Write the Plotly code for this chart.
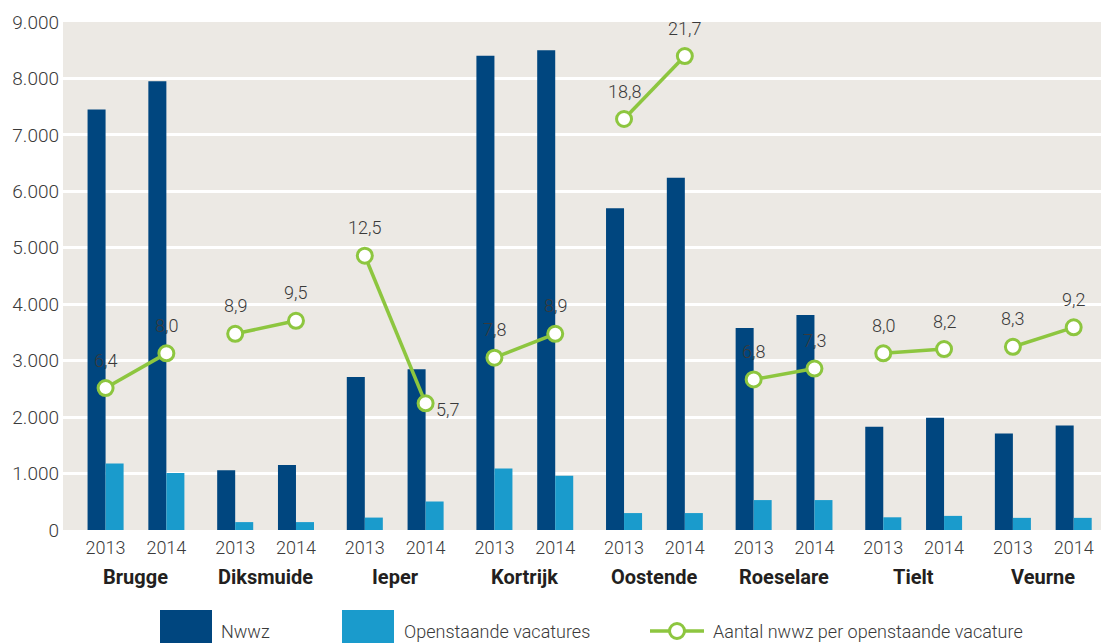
import plotly.graph_objects as go

# ---------------- data ----------------
regions = ["Brugge", "Diksmuide", "Ieper", "Kortrijk", "Oostende", "Roeselare", "Tielt", "Veurne"]
years = ["2013", "2014"]
nwwz_2013 = [7450, 1060, 2710, 8400, 5700, 3580, 1830, 1710]
nwwz_2014 = [7950, 1150, 2850, 8500, 6240, 3810, 1990, 1850]
vac_2013 = [1180, 140, 220, 1090, 300, 530, 225, 215]
vac_2014 = [1010, 140, 505, 960, 300, 530, 250, 215]
ratio_2013 = [6.4, 8.9, 12.5, 7.8, 18.8, 6.8, 8.0, 8.3]
ratio_2014 = [8.0, 9.5, 5.7, 8.9, 21.7, 7.3, 8.2, 9.2]
y_ticks = [0, 1000, 2000, 3000, 4000, 5000, 6000, 7000, 8000, 9000]

legend_names = ["Nwwz", "Openstaande vacatures", "Aantal nwwz per openstaande vacature"]

# ---------------- style ----------------
DARK = "#00467F"
LIGHT = "#1A9BCC"
GREEN = "#8DC63F"
BG = "#ECE9E4"
TXT = "#3A3A3A"
NUMFONT = "Roboto, sans-serif"
BOLDFONT = "Roboto, sans-serif"

OFF = 8                      # page body margin
W, H = 1109 - OFF, 643 - OFF
ML, MR, MT = 63 - OFF, 0, 22 - OFF
MB = H - (530 - OFF)
PW = W - ML - MR
PH = H - MT - MB
XR = [-0.563, 7.507]
YOFF = 0.2345   # half distance between the 2013 and 2014 slots
BW = 0.139      # bar width

def px2x(px):  # viewport px -> paper x
    return (px - OFF - ML) / PW

def py2y(py):  # viewport px -> paper y
    return (530 - py) / PH

# positions of each (region, year) slot
pos, yr_lab = [], []
for r in range(len(regions)):
    for k, y in enumerate(years):
        pos.append(r + (-YOFF if k == 0 else YOFF))
        yr_lab.append(y)

nwwz = [v for pair in zip(nwwz_2013, nwwz_2014) for v in pair]
vac = [v for pair in zip(vac_2013, vac_2014) for v in pair]
ratio = [v for pair in zip(ratio_2013, ratio_2014) for v in pair]

fig = go.Figure()
fig.add_trace(go.Bar(x=pos, y=nwwz, name=legend_names[0], marker=dict(color=DARK, line=dict(width=0)),
                     offset=-BW, width=BW, hoverinfo="y"))
fig.add_trace(go.Bar(x=pos, y=vac, name=legend_names[1], marker=dict(color=LIGHT, line=dict(width=0)),
                     offset=0, width=BW, hoverinfo="y"))

# line with breaks between regions
lx, ly = [], []
for i in range(len(regions)):
    lx += [pos[2 * i], pos[2 * i + 1], None]
    ly += [ratio[2 * i], ratio[2 * i + 1], None]
fig.add_trace(go.Scatter(x=lx, y=ly, yaxis="y2", mode="lines+markers", name=legend_names[2],
                         line=dict(color=GREEN, width=3.5),
                         marker=dict(size=15, color="white", line=dict(color=GREEN, width=3)),
                         connectgaps=False, hoverinfo="y"))

lblfont = dict(family=NUMFONT, size=18, color=TXT, weight=300)
annotations = []
for i, (x, v) in enumerate(zip(pos, ratio)):
    txt = f"{v:.1f}".replace(".", ",")
    if i == 5:  # Ieper 2014 label to the right
        annotations.append(dict(x=x, y=v, xref="x", yref="y2", text=txt, showarrow=False,
                                xanchor="left", yanchor="middle", xshift=8, yshift=-6, font=lblfont))
    else:
        annotations.append(dict(x=x, y=v, xref="x", yref="y2", text=txt, showarrow=False,
                                xanchor="center", yanchor="middle", yshift=28, font=lblfont))

for r, name in enumerate(regions):
    annotations.append(dict(x=r, y=py2y(577), xref="x", yref="paper", text=f"<b>{name}</b>",
                            showarrow=False, xanchor="center", yanchor="middle",
                            font=dict(family=BOLDFONT, size=20, color="#231F20")))

# manual legend
shapes = []
shapes.append(dict(type="rect", xref="paper", yref="paper", x0=px2x(160), x1=px2x(212),
                   y0=py2y(660), y1=py2y(610), fillcolor=DARK, line=dict(width=0), layer="above"))
shapes.append(dict(type="rect", xref="paper", yref="paper", x0=px2x(342), x1=px2x(394),
                   y0=py2y(660), y1=py2y(610), fillcolor=LIGHT, line=dict(width=0), layer="above"))
shapes.append(dict(type="line", xref="paper", yref="paper", x0=px2x(650), x1=px2x(704),
                   y0=py2y(631), y1=py2y(631), line=dict(color=GREEN, width=3.5), layer="above"))
shapes.append(dict(type="circle", xref="paper", yref="paper", x0=px2x(669.5), x1=px2x(684.5),
                   y0=py2y(638.5), y1=py2y(623.5), fillcolor="white", line=dict(color=GREEN, width=3),
                   layer="above"))
for tx, t in zip([219, 402, 711], legend_names):
    annotations.append(dict(x=px2x(tx), y=py2y(631), xref="paper", yref="paper", text=t,
                            showarrow=False, xanchor="left", yanchor="middle", font=lblfont))

fig.update_layout(
    width=W, height=H,
    margin=dict(l=ML, r=MR, t=MT, b=MB),
    plot_bgcolor=BG, paper_bgcolor="white",
    separators=",.",
    showlegend=False,
    barmode="overlay",
    xaxis=dict(range=XR, showgrid=False, zeroline=False, tickmode="array", tickvals=pos, ticktext=yr_lab,
               tickfont=lblfont, ticks="", showline=False, ticklabelstandoff=5),
    yaxis=dict(range=[0, 9000], tickmode="array", tickvals=y_ticks, tickformat=",d",
               showgrid=True, gridcolor="white", gridwidth=2.5, zeroline=False, showline=False,
               tickfont=dict(family=NUMFONT, size=19, color=TXT, weight=300), ticks="",
               ticklabelstandoff=3),
    yaxis2=dict(range=[-0.14, 23.27], overlaying="y", visible=False, showgrid=False),
    annotations=annotations,
    shapes=shapes,
)

fig.write_html("out.html")
